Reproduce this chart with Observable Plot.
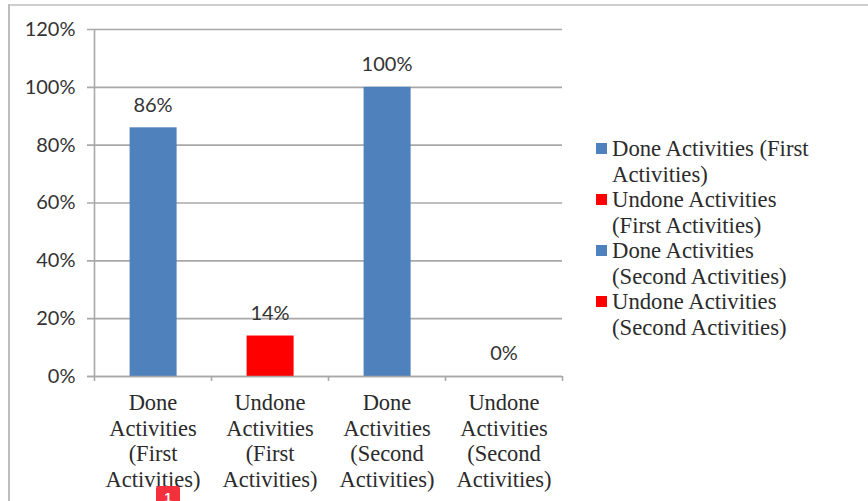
<!DOCTYPE html>
<html>
<head>
<meta charset="utf-8">
<script src="https://cdn.jsdelivr.net/npm/d3@7"></script>
<script src="https://cdn.jsdelivr.net/npm/@observablehq/plot@0.6"></script>
<style>
  html, body { margin: 0; padding: 0; background: #fff; overflow: hidden; }
  #page { position: relative; width: 868px; height: 501px; overflow: hidden; }
  #page svg { position: absolute; left: 0; top: 0; background: transparent; }
  .edge-top { position: absolute; left: 8px; top: 4px; right: 0; height: 2px; background: #cfcfcf; }
  .edge-left { position: absolute; left: 8px; top: 4px; bottom: 0; width: 2px; background: #bdbdbd; }
  #legend { position: absolute; left: 596px; top: 136px; font: 22.7px/25.5px "Liberation Serif", serif; color: #2b2b2b; }
  #legend .row { position: relative; padding-left: 16px; white-space: nowrap; }
  #legend .swatch { position: absolute; left: 0; top: 7px; width: 11px; height: 11px; }
  #badge { position: absolute; left: 156px; top: 486px; width: 24px; height: 24px; border-radius: 3px; background: #f4303c; color: #fff; font: bold 13px/24px "Liberation Sans", sans-serif; text-align: center; }
</style>
</head>
<body>
<div id="page">
  <div class="edge-top"></div>
  <div class="edge-left"></div>
</div>
<script>
// Share of activities done and undone in each round.
const categories = [
  "Done Activities (First Activities)",
  "Undone Activities (First Activities)",
  "Done Activities (Second Activities)",
  "Undone Activities (Second Activities)"
];
const axisLabels = [
  "Done\nActivities\n(First\nActivities)",
  "Undone\nActivities\n(First\nActivities)",
  "Done\nActivities\n(Second\nActivities)",
  "Undone\nActivities\n(Second\nActivities)"
];
const legendLabels = [
  ["Done Activities (First", "Activities)"],
  ["Undone Activities", "(First Activities)"],
  ["Done Activities", "(Second Activities)"],
  ["Undone Activities", "(Second Activities)"]
];
const values = [86, 14, 100, 0];
const barColors = ["#4f81bd", "#ff0000", "#4f81bd", "#ff0000"];
const yTicks = [0, 20, 40, 60, 80, 100, 120];

const rows = categories.map((category, i) => ({category, value: values[i], color: barColors[i]}));
const gridColor = "#a8a8a8";
const slot = (868 - 94 - 306) / categories.length;

const chart = Plot.plot({
  width: 868,
  height: 501,
  marginLeft: 94,
  marginRight: 306,
  marginTop: 29,
  marginBottom: 125,
  x: {domain: categories, paddingInner: 0.6, paddingOuter: 0.3, align: 0.5, label: null},
  y: {domain: [0, 120], label: null},
  marks: [
    // Gridlines run a little past the vertical axis, forming its ticks.
    Plot.ruleY(yTicks, {y: d => d, stroke: gridColor, strokeWidth: 1.6, insetLeft: -7}),
    Plot.ruleX([0], {x: () => categories[0], dx: -slot / 2, y1: 0, y2: 120, stroke: gridColor, strokeWidth: 1.6}),
    Plot.barY(rows, {x: "category", y: "value", fill: "color", dx: 0.6}),
    Plot.ruleY([0], {stroke: gridColor, strokeWidth: 1.6, insetLeft: -7}),
    // Category separators hang below the baseline.
    Plot.ruleX(categories, {x: d => d, dx: -slot / 2, y1: 0, y2: -1.7, stroke: gridColor, strokeWidth: 1.6}),
    Plot.ruleX([categories[categories.length - 1]], {x: d => d, dx: slot / 2, y1: 0, y2: -1.7, stroke: gridColor, strokeWidth: 1.6}),
    Plot.axisY({
      ticks: yTicks, tickSize: 0, tickPadding: 19,
      tickFormat: d => d + "%",
      fontSize: 20, fontFamily: "Lato, sans-serif", fill: "#333", label: null
    }),
    Plot.axisX({
      tickSize: 0, tickPadding: 15.5,
      tickFormat: d => axisLabels[categories.indexOf(d)],
      lineHeight: 1.133, lineAnchor: "top",
      fontSize: 22.5, fontFamily: "Liberation Serif, serif", fill: "#2b2b2b", label: null
    }),
    Plot.text(rows, {
      x: "category", y: "value", text: d => d.value + "%",
      dy: -22.5, fontSize: 20, fontFamily: "Lato, sans-serif", fill: "#333"
    })
  ]
});

const page = document.getElementById("page");
page.appendChild(chart);

// Legend sits to the right of the plot, one two-line entry per bar.
const legend = d3.select(page).append("div").attr("id", "legend");
legendLabels.forEach((lines, i) => {
  const row = legend.append("div").attr("class", "row");
  row.append("span").attr("class", "swatch").style("background", barColors[i]);
  lines.forEach(line => row.append("div").text(line));
});

// Small notification badge clipped by the bottom edge.
d3.select(page).append("div").attr("id", "badge").text("1");
</script>
</body>
</html>
